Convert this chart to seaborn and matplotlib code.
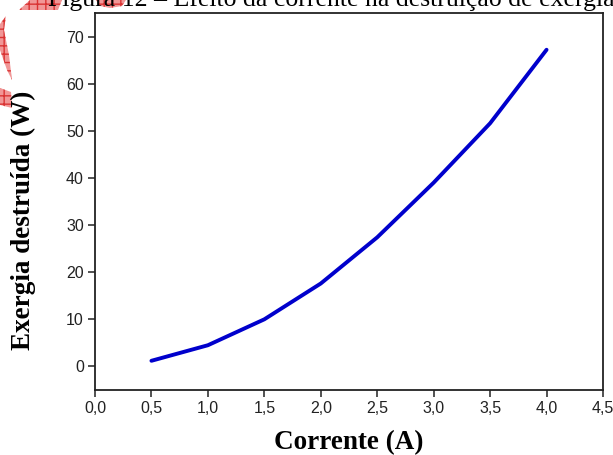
import matplotlib
matplotlib.use("Agg")
import matplotlib.pyplot as plt
import matplotlib.patches as mpatches
import seaborn as sns
import pandas as pd

# Destroyed exergy as a function of electric current
corrente = [0.5, 1.0, 1.5, 2.0, 2.5, 3.0, 3.5, 4.0]
exergia = [1.2, 4.5, 10.0, 17.6, 27.4, 39.0, 51.6, 67.2]

x_ticks = [0.0, 0.5, 1.0, 1.5, 2.0, 2.5, 3.0, 3.5, 4.0, 4.5]
x_labels = ["0,0", "0,5", "1,0", "1,5", "2,0", "2,5", "3,0", "3,5", "4,0", "4,5"]
y_ticks = [0, 10, 20, 30, 40, 50, 60, 70]

titulo = "Figura 12 \u2013 Efeito da corrente na destrui\u00e7\u00e3o de exergia"
x_titulo = "Corrente (A)"
y_titulo = "Exergia destru\u00edda (W)"

df = pd.DataFrame({"corrente": corrente, "exergia": exergia})

sns.set_style("ticks")
plt.rcParams["font.family"] = ["Liberation Sans", "DejaVu Sans"]

W, H = 613, 455
fig = plt.figure(figsize=(W / 100, H / 100), dpi=100)
ax = fig.add_axes([95 / W, 1 - 390 / H, 508 / W, 377 / H])

sns.lineplot(data=df, x="corrente", y="exergia", ax=ax, color="#0000CC",
             linewidth=2.8, solid_capstyle="round", solid_joinstyle="round")

ax.set_xlim(0, 4.5)
ax.set_ylim(-5, 75)
ax.set_xticks(x_ticks)
ax.set_xticklabels(x_labels)
ax.set_yticks(y_ticks)
ax.tick_params(axis="both", direction="out", length=5, width=1.1,
               colors="#222222", labelsize=11.5, pad=3,
               top=False, right=False)
for s in ax.spines.values():
    s.set_visible(True)
    s.set_linewidth(1.3)
    s.set_color("#222222")

serif = ["Liberation Serif", "DejaVu Serif"]
ax.set_xlabel(x_titulo, fontfamily=serif, fontweight="bold", fontsize=19.5,
              labelpad=10, color="black")
ax.set_ylabel("")
fig.text(23 / W, 1 - 220 / H, y_titulo, fontfamily=serif, fontweight="bold",
         fontsize=19.5, rotation=90, ha="center", va="center", color="black")

# Caption line from the page, partially cut off at the top
fig.text(48 / W, 1 - 6 / H, titulo, fontfamily=serif, fontsize=18.5,
         ha="left", va="baseline", color="black")

# Red hatched page ornament fragments on the left margin
red_fill = (0.93, 0.45, 0.45, 0.75)
frags = [
    [(19, 10), (30, 0), (62, 0), (58, 10)],
    [(0, 24), (6, 16), (4, 30), (9, 55), (12, 80), (7, 70), (0, 50)],
    [(0, 88), (11, 92), (12, 108), (0, 105)],
    [(96, 0), (126, 0), (122, 6), (110, 8), (100, 6)],
]
for pts in frags:
    poly = mpatches.Polygon([(px / W, 1 - py / H) for px, py in pts],
                            closed=True, transform=fig.transFigure,
                            facecolor=red_fill, edgecolor=(0.85, 0.2, 0.2),
                            hatch="++", linewidth=0, zorder=0)
    fig.patches.append(poly)

fig.savefig("out.png", dpi=100)
